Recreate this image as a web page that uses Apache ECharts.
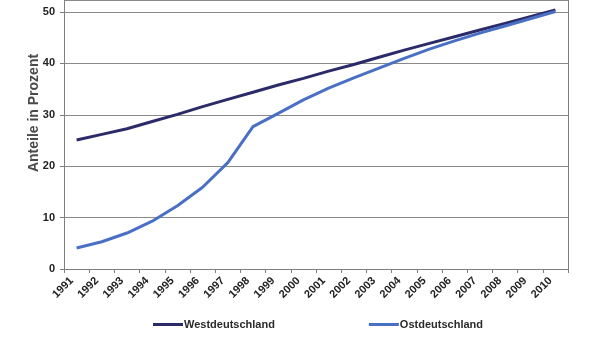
<!DOCTYPE html>
<html>
<head>
<meta charset="utf-8">
<script src="https://cdn.jsdelivr.net/npm/echarts@6/dist/echarts.min.js"></script>
<style>
  html, body { margin: 0; padding: 0; background: #fff; }
  #chart { width: 600px; height: 338px; }
</style>
</head>
<body>
<div id="chart"></div>
<script>
// Years on the category axis
const years = ['1991','1992','1993','1994','1995','1996','1997','1998','1999','2000',
               '2001','2002','2003','2004','2005','2006','2007','2008','2009','2010'];

// Share in percent, West Germany
const westdeutschland = [25.1, 26.2, 27.3, 28.7, 30.1, 31.6, 33.0, 34.4, 35.8, 37.1,
                         38.5, 39.8, 41.2, 42.6, 43.9, 45.2, 46.5, 47.8, 49.1, 50.4];

// Share in percent, East Germany
const ostdeutschland = [4.1, 5.3, 7.0, 9.3, 12.3, 15.9, 20.7, 27.7, 30.3, 32.9,
                        35.2, 37.2, 39.1, 41.0, 42.8, 44.4, 45.9, 47.3, 48.7, 50.1];

// Y range: the plot continues above the top edge of the canvas
const Y_MAX = 52.35;

const chart = echarts.init(document.getElementById('chart'), null, { renderer: 'canvas' });

const FONT = '"Liberation Sans", Arial, sans-serif';
const AXIS_GRAY = '#7f7f7f';

chart.setOption({
  animation: false,
  backgroundColor: '#ffffff',
  textStyle: { fontFamily: FONT },
  grid: { left: 64, right: 32, top: 0, bottom: 69, show: false },
  legend: {
    bottom: 3,
    left: 148,
    itemGap: 94,
    itemWidth: 30,
    itemHeight: 3,
    icon: 'rect',
    textStyle: { fontFamily: FONT, fontSize: 11, fontWeight: 'bold', color: '#2a2a2a', padding: [0, 0, 0, -4] },
    data: ['Westdeutschland', 'Ostdeutschland']
  },
  graphic: [{
    type: 'text',
    x: 34, y: 113,
    rotation: Math.PI / 2,
    style: {
      text: 'Anteile in Prozent',
      font: 'bold 14px ' + FONT,
      fill: '#4a4a4a',
      align: 'center',
      verticalAlign: 'middle'
    }
  }],
  xAxis: {
    type: 'category',
    data: years,
    boundaryGap: true,
    axisLine: { lineStyle: { color: AXIS_GRAY, width: 1 } },
    axisTick: { show: true, length: 4, lineStyle: { color: AXIS_GRAY } },
    axisLabel: {
      rotate: 45,
      interval: 0,
      margin: 5,
      fontFamily: FONT,
      fontSize: 11,
      fontWeight: 'bold',
      color: '#222',
      padding: [0, 7, 0, 0]
    }
  },
  yAxis: [
    {
      type: 'value',
      min: 0, max: Y_MAX, interval: 10,
      axisLine: { show: true, lineStyle: { color: AXIS_GRAY } },
      axisTick: { show: true, length: 4, lineStyle: { color: AXIS_GRAY } },
      splitLine: { lineStyle: { color: '#8a8a8a', width: 1 } },
      axisLabel: {
        margin: 9,
        fontFamily: FONT,
        fontSize: 11,
        fontWeight: 'bold',
        color: '#222',
        showMaxLabel: false,
        formatter: v => (v % 10 === 0 ? String(v) : '')
      }
    },
    {
      // right-hand frame line of the plot area
      type: 'value',
      position: 'right',
      min: 0, max: Y_MAX, interval: 10,
      axisLine: { show: true, lineStyle: { color: AXIS_GRAY } },
      axisTick: { show: false },
      axisLabel: { show: false },
      splitLine: { show: false }
    }
  ],
  series: [
    {
      name: 'Westdeutschland',
      type: 'line',
      data: westdeutschland,
      symbol: 'none',
      lineStyle: { color: '#2c2b69', width: 3 },
      itemStyle: { color: '#2c2b69' },
      z: 3
    },
    {
      name: 'Ostdeutschland',
      type: 'line',
      data: ostdeutschland,
      symbol: 'none',
      lineStyle: { color: '#4a70c6', width: 3 },
      itemStyle: { color: '#4a70c6' },
      z: 4
    }
  ]
});
</script>
</body>
</html>
